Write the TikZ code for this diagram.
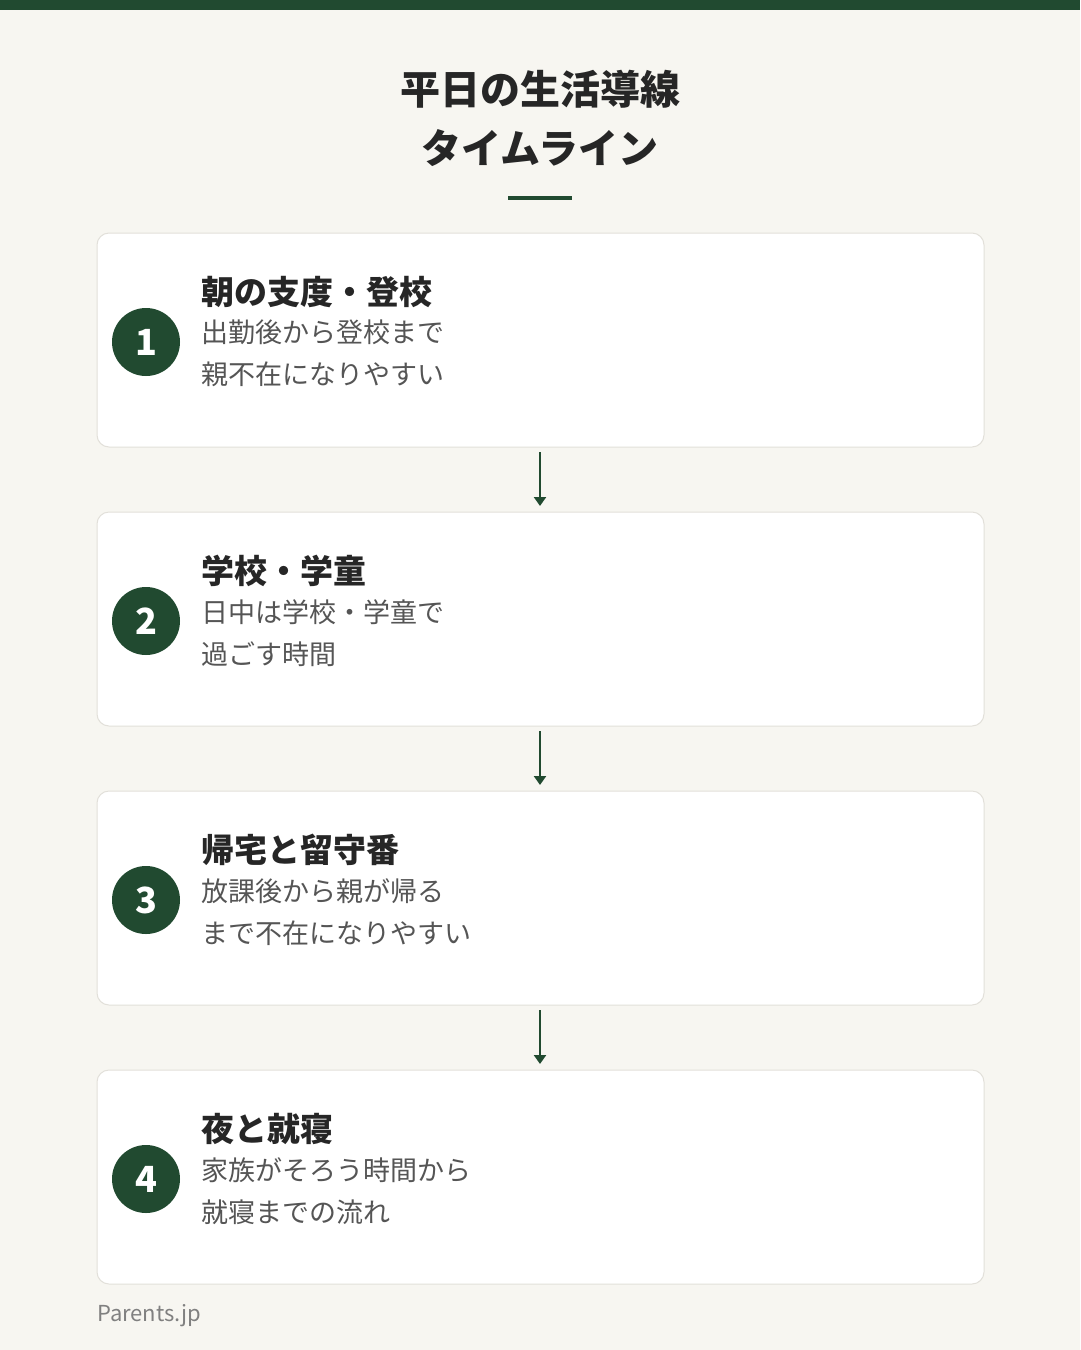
\documentclass[tikz,border=0pt]{standalone}
\usepackage{fontspec}
\setmainfont{Noto Sans CJK JP}
\usetikzlibrary{arrows.meta}
\definecolor{bg}{HTML}{F7F6F1}
\definecolor{pine}{HTML}{214A30}
\definecolor{edgegray}{HTML}{E2E0DA}
\definecolor{txtgray}{HTML}{555555}
\begin{document}
\begin{tikzpicture}[x=1pt,y=-1pt,
    card/.style={draw=edgegray,fill=white,rounded corners=12pt,line width=1pt},
    num/.style={circle,fill=pine,text=white,minimum size=68pt,inner sep=0pt,font=\fontsize{36}{40}\selectfont\bfseries},
    head/.style={anchor=west,inner sep=0pt,text=black!85,font=\fontsize{33}{38}\selectfont\bfseries},
    body/.style={anchor=north west,inner sep=0pt,align=left,text=txtgray,font=\fontsize{27}{42}\selectfont},
    flowarrow/.style={-{Triangle[width=12pt,length=9pt]},draw=pine,line width=2.5pt}]
    \useasboundingbox (0,0) rectangle (1080,1350);
    \fill[bg] (0,0) rectangle (1080,1350);
    \fill[pine] (0,0) rectangle (1080,10);
    % title
    \node[font=\fontsize{40}{59}\selectfont\bfseries,align=center,text=black!85] (title) at (540,118) {平日の生活導線\\タイムライン};
    \draw[pine,line width=4pt] (508,198) -- (572,198);
    % cards
    \foreach \i/\y/\h/\a/\b in {1/233/朝の支度・登校/出勤後から登校まで/親不在になりやすい,
                                2/512/学校・学童/日中は学校・学童で/過ごす時間,
                                3/791/帰宅と留守番/放課後から親が帰る/まで不在になりやすい,
                                4/1070/夜と就寝/家族がそろう時間から/就寝までの流れ}{
      \draw[card] (97,\y) rectangle (984,\y+214);
      \node[num] (n\i) at (146,\y+109) {\i};
      \node[head] (h\i) at (201,\y+59) {\h};
      \node[body] (b\i) at (201,\y+87) {\a\\\b};
      \coordinate (top\i) at (540,\y-60);
      \coordinate (bot\i) at (540,\y-6);
    }
    \foreach \i in {2,3,4}{
      \draw[flowarrow] (top\i) -- (bot\i);
    }
    \node[anchor=west,inner sep=0pt,text=gray,font=\fontsize{22}{26}\selectfont] (src) at (97,1316) {Parents.jp};
\end{tikzpicture}
\end{document}
